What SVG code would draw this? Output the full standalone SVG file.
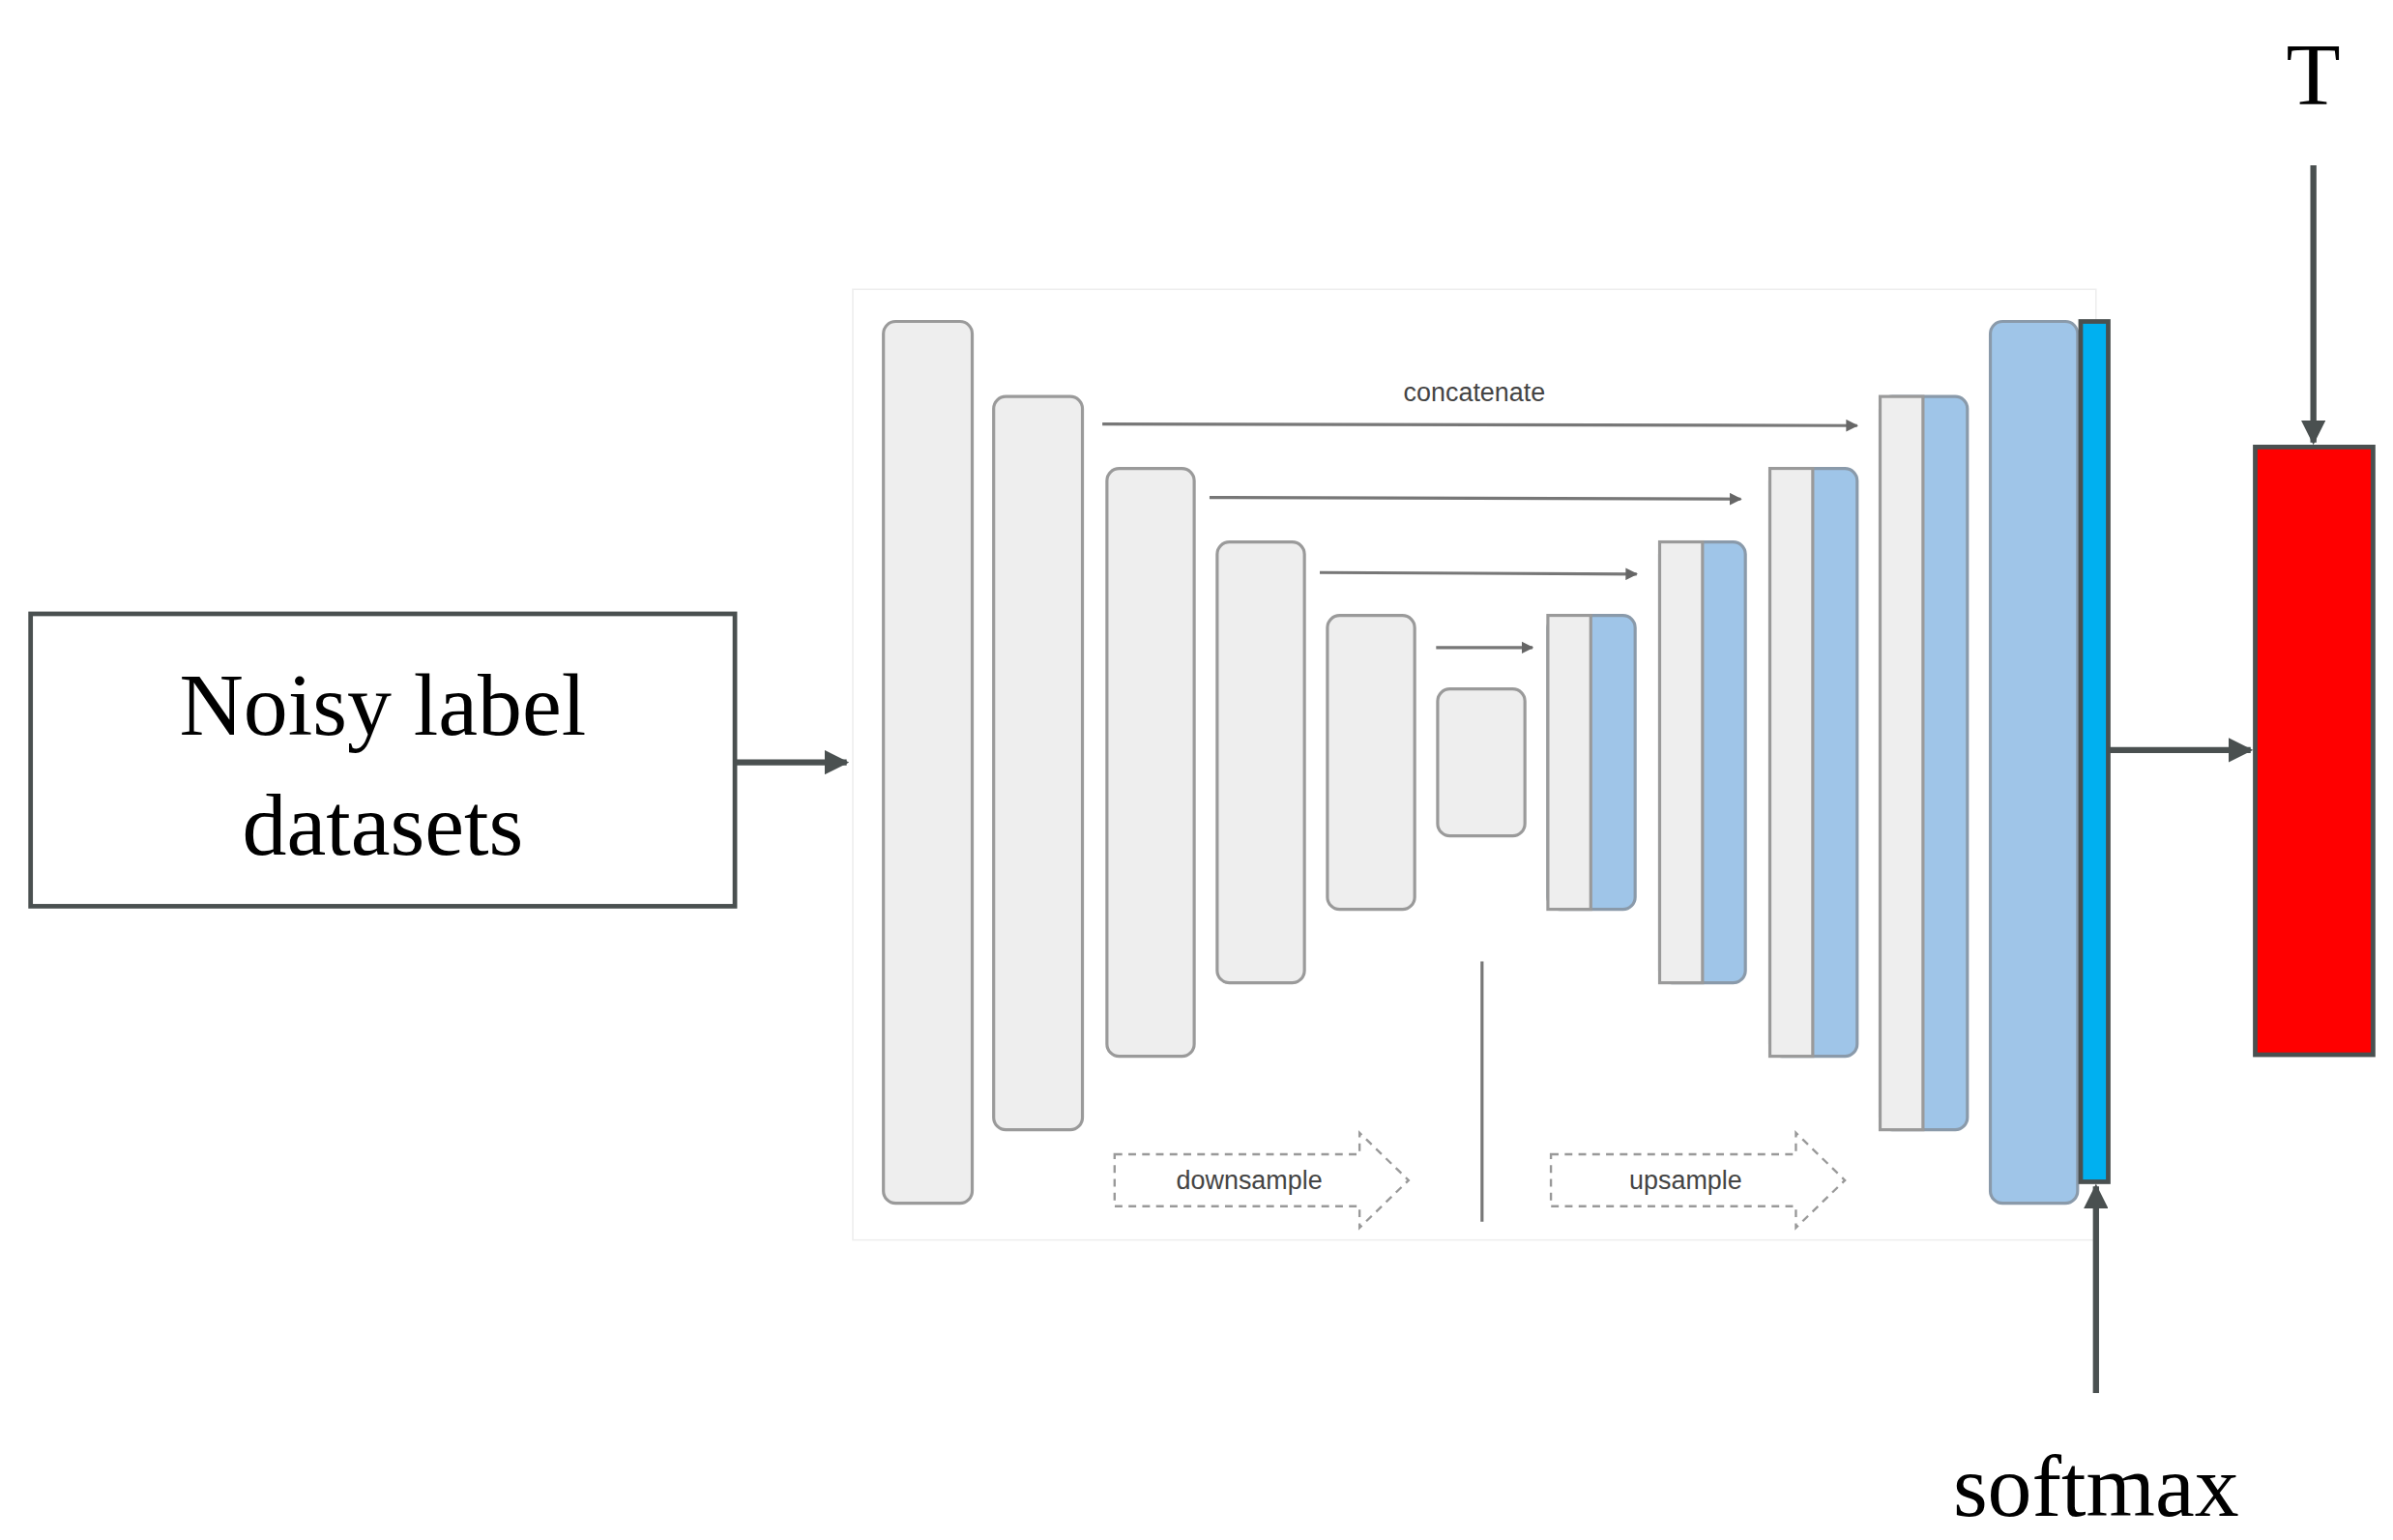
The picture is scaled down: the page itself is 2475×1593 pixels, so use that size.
<svg xmlns="http://www.w3.org/2000/svg" width="2475" height="1593" viewBox="0 0 2475 1593">
<defs>
<style>
.g{fill:#eeeeee;stroke:#9a9a9a;stroke-width:2}
.b{fill:#9fc5e8;stroke:#8a9aaa;stroke-width:2}
.big{font-family:"Liberation Serif",serif;font-size:58px;fill:#000;text-anchor:middle}
.sm{font-family:"Liberation Sans",Arial,sans-serif;font-size:17px;fill:#444;text-anchor:middle}
.thin{stroke:#777;stroke-width:2;fill:none}
.thick{stroke:#4a5050;stroke-width:4;fill:none}
.dash{stroke:#999;stroke-width:1.5;fill:none;stroke-dasharray:5 4}
</style>
<marker id="ah" viewBox="0 0 10 10" refX="9" refY="5" markerWidth="4" markerHeight="4" orient="auto"><path d="M0,0L10,5L0,10z" fill="#4a5050"/></marker>
<marker id="sa" viewBox="0 0 10 10" refX="9" refY="5" markerWidth="4" markerHeight="4" orient="auto"><path d="M0,0L10,5L0,10z" fill="#666"/></marker>
</defs>
<rect width="2475" height="1593" fill="#fff"/>
<g transform="scale(1.5835)">
<g id="frame"><rect x="557" y="189" width="812" height="621" fill="#fff" stroke="#eee" stroke-width="1"/></g>
<g id="input"><rect x="20" y="401" width="460" height="191" fill="#fff" stroke="#4a5050" stroke-width="3"/>
<text class="big" x="250" y="480">Noisy label</text><text class="big" x="250" y="558">datasets</text></g>
<g id="enc1"><rect class="g" x="577" y="210" width="58" height="576" rx="8"/></g>
<g id="enc2"><rect class="g" x="649" y="259" width="58" height="479" rx="8"/></g>
<g id="enc3"><rect class="g" x="723" y="306" width="57" height="384" rx="8"/></g>
<g id="enc4"><rect class="g" x="795" y="354" width="57" height="288" rx="8"/></g>
<g id="enc5"><rect class="g" x="867" y="402" width="57" height="192" rx="8"/></g>
<g id="bott"><rect class="g" x="939" y="450" width="57" height="96" rx="8"/></g>
<g id="dec1"><rect class="b" x="1011" y="402" width="57" height="192" rx="8"/><rect class="g" x="1011" y="402" width="28" height="192"/></g>
<g id="dec2"><rect class="b" x="1084" y="354" width="56" height="288" rx="8"/><rect class="g" x="1084" y="354" width="28" height="288"/></g>
<g id="dec3"><rect class="b" x="1156" y="306" width="57" height="384" rx="8"/><rect class="g" x="1156" y="306" width="28" height="384"/></g>
<g id="dec4"><rect class="b" x="1228" y="259" width="57" height="479" rx="8"/><rect class="g" x="1228" y="259" width="28" height="479"/></g>
<g id="out"><rect class="b" x="1300" y="210" width="57" height="576" rx="8"/></g>
<g id="softbar"><rect x="1359" y="210" width="18" height="562" fill="#00b0f0" stroke="#4a5050" stroke-width="3"/></g>
<g id="T"><rect x="1473" y="292" width="77" height="397" fill="#ff0000" stroke="#4a5050" stroke-width="3"/></g>
<g id="labels">
<text class="sm" x="963" y="262">concatenate</text>
<text class="sm" x="816" y="777">downsample</text>
<text class="sm" x="1101" y="777">upsample</text>
<text class="big" x="1511" y="68">T</text>
<text class="big" x="1369" y="990">softmax</text>
</g>
<g id="connectors">
<line class="thick" x1="480" y1="498" x2="553" y2="498" marker-end="url(#ah)"/>
<line class="thick" x1="1377" y1="490" x2="1470" y2="490" marker-end="url(#ah)"/>
<line class="thick" x1="1511" y1="108" x2="1511" y2="289" marker-end="url(#ah)"/>
<line class="thick" x1="1369" y1="910" x2="1369" y2="775" marker-end="url(#ah)"/>
<line class="thin" x1="720" y1="277" x2="1213" y2="278" marker-end="url(#sa)"/>
<line class="thin" x1="790" y1="325" x2="1137" y2="326" marker-end="url(#sa)"/>
<line class="thin" x1="862" y1="374" x2="1069" y2="375" marker-end="url(#sa)"/>
<line class="thin" x1="938" y1="423" x2="1001" y2="423" marker-end="url(#sa)"/>
<line class="thin" x1="968" y1="628" x2="968" y2="798"/>
<path class="dash" d="M728,754H888V740L920,771L888,802V788H728Z"/>
<path class="dash" d="M1013,754H1173V740L1205,771L1173,802V788H1013Z"/>
</g>
</g>
</svg>
